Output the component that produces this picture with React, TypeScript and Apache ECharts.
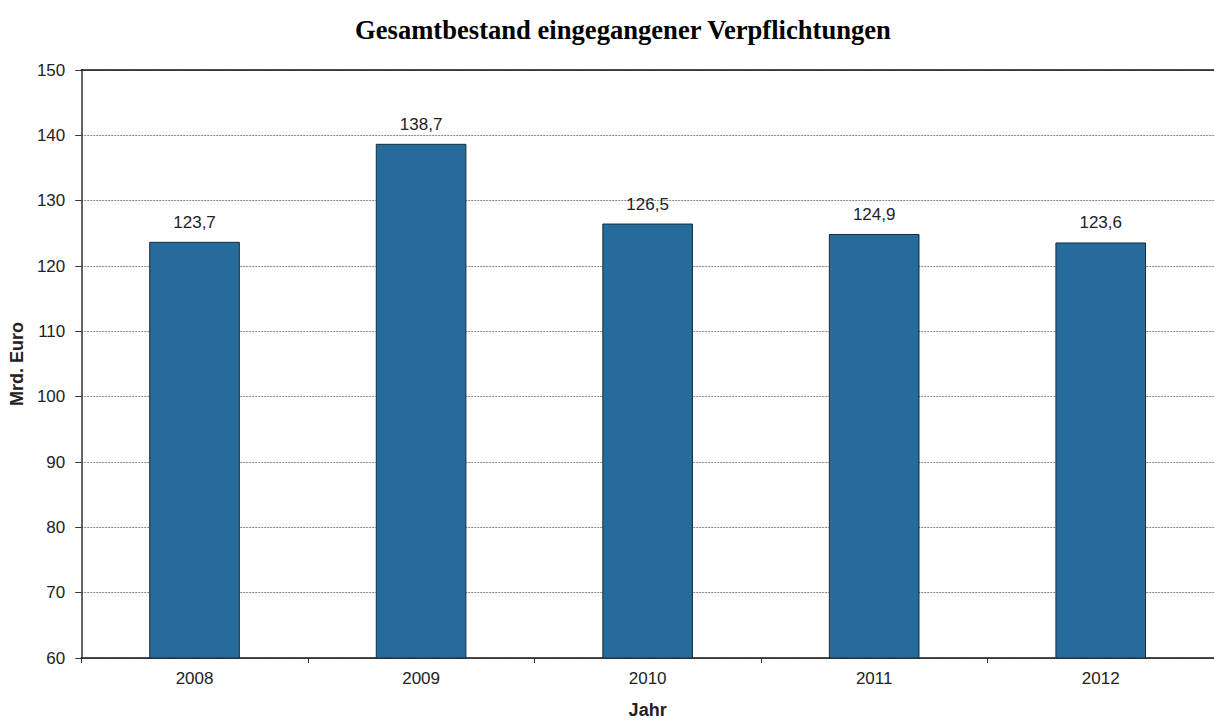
import React, { useEffect, useRef } from "react";
import * as echarts from "echarts";

const years = ["2008", "2009", "2010", "2011", "2012"];
const values = [123.7, 138.7, 126.5, 124.9, 123.6];
const yMin = 60;
const yMax = 150;
const yStep = 10;

export default function App() {
  const ref = useRef<HTMLDivElement>(null);
  useEffect(() => {
    const chart = echarts.init(ref.current!, null, { renderer: "svg" });
    chart.setOption({
      animation: false,
      backgroundColor: "#ffffff",
      title: {
        text: "Gesamtbestand eingegangener Verpflichtungen",
        left: 618,
        textAlign: "center",
        top: 11,
        textStyle: { fontFamily: "Liberation Serif", fontSize: 26.6, fontWeight: "bold", color: "#000" },
      },
      grid: { left: 77, right: -8, top: 70, bottom: 63, containLabel: false },
      xAxis: [
        {
          type: "category",
          data: years,
          name: "Jahr",
          nameLocation: "middle",
          nameGap: 43,
          nameTextStyle: { fontFamily: "Liberation Sans", fontSize: 18, fontWeight: "bold", color: "#222" },
          axisLine: { lineStyle: { color: "#111", width: 1.5 } },
          axisTick: { show: true, length: 5, lineStyle: { color: "#333" } },
          axisLabel: { fontFamily: "Liberation Sans", fontSize: 17, color: "#222", margin: 12 },
        },
        {
          type: "category",
          data: years,
          position: "top",
          axisLine: { show: true, lineStyle: { color: "#111", width: 1.5 } },
          axisTick: { show: false },
          axisLabel: { show: false },
        },
      ],
      yAxis: {
        type: "value",
        min: yMin,
        max: yMax,
        interval: yStep,
        name: "Mrd. Euro",
        nameLocation: "middle",
        nameGap: 52,
        nameTextStyle: { fontFamily: "Liberation Sans", fontSize: 18, fontWeight: "bold", color: "#222" },
        axisLine: { show: true, lineStyle: { color: "#333", width: 1.5 } },
        axisTick: { show: true, length: 6, lineStyle: { color: "#333" } },
        axisLabel: { fontFamily: "Liberation Sans", fontSize: 17, color: "#222", margin: 16 },
        splitLine: { show: true, lineStyle: { color: "#888", type: [2, 1], width: 1 } },
      },
      series: [
        {
          type: "bar",
          data: values,
          barWidth: "40%",
          itemStyle: { color: "#256b9b", borderColor: "#1b2a38", borderWidth: 1 },
          label: {
            show: true,
            position: "top",
            distance: 11,
            fontFamily: "Liberation Sans",
            fontSize: 17,
            color: "#222",
            formatter: (p: any) => String(p.value.toFixed(1)).replace(".", ","),
          },
        },
      ],
    });
    return () => chart.dispose();
  }, []);
  return <div ref={ref} style={{ position: "absolute", left: 0, top: 0, width: 1214, height: 724 }} />;
}
